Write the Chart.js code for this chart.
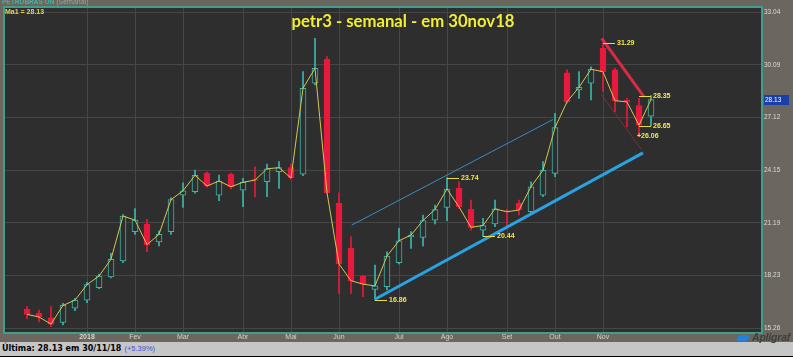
<!DOCTYPE html>
<html><head><meta charset="utf-8">
<script src="https://cdn.jsdelivr.net/npm/chart.js@4.4.0/dist/chart.umd.min.js"></script>
<style>
html,body{margin:0;padding:0;background:#6b675e;width:793px;height:357px;overflow:hidden;position:relative}
#c{position:absolute;left:0;top:0;display:block}
#top{position:absolute;left:2px;top:-2px;height:9px;overflow:hidden;font:bold 6.5px "Liberation Sans",Arial;line-height:8px;color:#39b8a6;white-space:nowrap;z-index:2}
#top span{font-weight:normal;color:#8fa8a2;font-size:7px}
#status{position:absolute;left:0;top:342px;width:793px;height:15px;background:#c6c6c6;border-bottom:1px solid #000;box-sizing:border-box;padding-left:2px;font:bold 8px "DejaVu Sans";line-height:14px;color:#000;white-space:nowrap}
#status span{font:7.5px "Liberation Sans",Arial;color:#3a4fd0;margin-left:3px}
#logo{position:absolute;left:752px;top:332px;z-index:3;font:bold italic 10.5px "Liberation Sans",Arial;line-height:11px;color:#3e3e3e;letter-spacing:-0.2px}
#swoosh{position:absolute;left:737px;top:335px;z-index:3;width:12px;height:6px;background:#2383dc;border-radius:6px 2px 6px 2px}
</style></head>
<body>
<canvas id="c" width="793" height="342"></canvas>
<div id="top">PETROBRAS ON <span>(Semanal)</span></div>
<div id="status">Última: 28.13 em 30/11/18<span>(+5.39%)</span></div>
<div id="swoosh"></div><div id="logo">Apligraf</div>
<script>
// Weekly candles, week 0 = 27 Nov 2017 ... week 52 = 26 Nov 2018
const opens  = [16.35,16.10,15.85,15.60,16.40,16.85,17.55,18.15,19.05,20.70,21.13,20.13,20.70,22.76,22.95,24.00,22.76,23.94,23.04,23.65,23.51,24.07,24.30,23.94,29.05,30.40,22.29,19.76,18.20,17.45,17.60,18.95,20.40,20.38,21.35,22.07,23.14,21.96,20.79,21.13,21.88,22.29,21.82,22.76,23.98,29.64,28.67,29.05,31.02,29.80,28.10,27.80,27.20];
const highs  = [16.50,16.29,16.48,16.67,16.95,17.85,18.32,19.48,21.66,22.00,21.40,20.75,22.60,23.45,24.17,24.05,23.89,24.00,23.70,24.35,24.50,24.64,24.50,29.70,31.58,30.55,22.89,20.42,18.25,18.82,19.57,20.89,20.70,21.64,22.20,23.74,23.50,22.48,21.45,22.48,21.96,22.48,23.51,24.64,27.36,29.80,29.70,29.98,31.29,29.90,28.20,28.20,28.35];
const lows   = [15.82,15.63,15.35,15.45,16.25,16.70,17.49,18.10,18.95,20.55,19.57,19.90,20.55,22.07,22.86,23.20,22.44,23.10,22.10,22.66,22.67,23.14,23.65,23.85,28.95,22.85,17.23,17.23,17.05,16.86,17.42,18.88,19.76,19.89,21.13,21.32,21.99,20.79,20.44,20.98,21.00,21.64,21.69,22.67,23.79,27.92,28.20,28.11,28.58,27.45,26.60,26.06,26.65];
const closes = [16.05,15.90,15.50,16.55,16.85,17.72,18.20,19.15,21.58,21.35,19.97,20.55,22.50,23.00,23.87,23.27,23.55,23.23,23.48,23.60,24.24,24.30,23.72,28.77,29.89,22.90,18.88,17.94,17.75,17.65,19.33,20.19,20.51,21.33,21.95,23.10,22.10,20.94,21.05,21.98,21.82,21.92,23.23,24.15,26.55,28.01,28.82,29.84,29.70,28.07,28.00,26.69,28.13];

const monthIdx    = [5,9,13,18,22,26,31,35,40,44,48];
const monthLabels = ["2018","Fev","Mar","Abr","Mai","Jun","Jul","Ago","Set","Out","Nov"];
const yTickValues = [15.26,18.23,21.19,24.15,27.12,30.09,33.04];
const yTickLabels = ["15.26","18.23","21.19","24.15","27.12","30.09","33.04"];

// trend lines (week index, price)
const supportLine = [{x:29, y:16.90},{x:51.33, y:25.13}];
const channelLine = [{x:27.06, y:21.07},{x:43.83, y:27.01}];
const downLine    = [{x:47.89, y:31.58},{x:51.42, y:28.29}];
const downChannel = [{x:47.89, y:28.39},{x:51.22, y:25.30}];

// price marks
const markIdx    = [29,35,38,48,51,51,51];
const markVal    = [16.86,23.74,20.44,31.29,28.35,26.65,26.06];
const markLen    = [1,1,1,1,1,1,0];
const markPrefix = ["","","","","","","+"];

const titleText = "petr3 - semanal - em 30nov18";

const UP='#3cb6a8', DOWN='#e8193c', PLOT='#2e2e2e';
const isUp = closes.map((c,i)=>c>=opens[i]);
const bodies = closes.map((c,i)=>({x:i, y:[Math.min(c,opens[i]), Math.max(c,opens[i])]}));
const wicks  = closes.map((c,i)=>({x:i, y:[lows[i], highs[i]]}));
const maLine = closes.map((c,i)=>({x:i, y:c}));

const overlay = {
  id:'overlay',
  beforeDraw(chart){
    const {ctx, chartArea:a} = chart;
    ctx.save(); ctx.fillStyle=PLOT; ctx.fillRect(a.left,a.top,a.right-a.left,a.bottom-a.top); ctx.restore();
  },
  afterDatasetsDraw(chart){
    const {ctx, chartArea:a, scales:{x,y}} = chart;
    ctx.save();
    ctx.lineWidth=1; ctx.strokeStyle='#e6dc48'; ctx.fillStyle='#f2e84a';
    ctx.font='bold 7px "Liberation Sans", Arial'; ctx.textBaseline='middle'; ctx.textAlign='left';
    markIdx.forEach((i,k)=>{
      const py = Math.round(y.getPixelForValue(markVal[k]))+0.5;
      const x0 = x.getPixelForValue(i), x1 = x.getPixelForValue(i+markLen[k]);
      if (markLen[k]>0){ ctx.beginPath(); ctx.moveTo(x0,py); ctx.lineTo(x1,py); ctx.stroke(); }
      ctx.fillText(markPrefix[k]+markVal[k].toFixed(2), markLen[k]>0 ? x1+2 : x0-2, py);
    });
    ctx.fillStyle='#e6d84a';
    ctx.fillText('Ma1 = '+closes[closes.length-1].toFixed(2), a.left+1, a.top+5);
    ctx.font='bold 16.7px Lato'; ctx.fillStyle='#f2ee30'; ctx.textAlign='center'; ctx.textBaseline='alphabetic';
    ctx.fillText(titleText, 403, 27);
    ctx.strokeStyle='#3f9e8c'; ctx.lineWidth=2;
    ctx.strokeRect(a.left, a.top, a.right-a.left, a.bottom-a.top);
    const last = closes[closes.length-1];
    const by = Math.round(y.getPixelForValue(last));
    ctx.fillStyle='#1a3fa8'; ctx.fillRect(a.right+2, by-5, 25, 10);
    ctx.fillStyle='#ffffff'; ctx.font='6.5px "Liberation Sans", Arial'; ctx.textAlign='left'; ctx.textBaseline='middle';
    ctx.fillText(last.toFixed(2), a.right+3, by);
    ctx.restore();
  }
};

new Chart(document.getElementById('c'), {
  type:'bar',
  data:{datasets:[
    {type:'line', data:maLine, borderColor:'#d6c650', borderWidth:1, pointRadius:0, tension:0, order:0},
    {type:'line', data:supportLine, borderColor:'#2aa2e2', borderWidth:3, pointRadius:0, order:0},
    {type:'line', data:channelLine, borderColor:'#3b8cc0', borderWidth:1, pointRadius:0, order:0},
    {type:'line', data:downLine, borderColor:'#dc2a44', borderWidth:3, pointRadius:0, order:0},
    {type:'line', data:downChannel, borderColor:'#7e3030', borderWidth:1, pointRadius:0, order:0},
    {type:'bar', data:bodies, grouped:false, barThickness:6, borderWidth:1, borderSkipped:false,
      backgroundColor:isUp.map(u=>u?PLOT:DOWN), borderColor:isUp.map(u=>u?UP:DOWN), order:1},
    {type:'bar', data:wicks, grouped:false, barThickness:1, borderWidth:0,
      backgroundColor:isUp.map(u=>u?UP:DOWN), order:2}
  ]},
  options:{
    responsive:false, animation:false, events:[],
    layout:{padding:{left:4, top:7, right:0, bottom:0}},
    plugins:{legend:{display:false}, tooltip:{enabled:false}, title:{display:false}},
    scales:{
      x:{type:'linear', min:-1.917, max:61.25, offset:false,
        grid:{color:'#464646', lineWidth:1, drawTicks:false, offset:false}, border:{display:false},
        afterBuildTicks:s=>{ s.ticks = monthIdx.map(v=>({value:v})); },
        afterFit:s=>{ s.height = 9; },
        ticks:{padding:1, maxRotation:0, autoSkip:false, color:'#d6d2c6',
          font:c=>({family:'"Liberation Sans", Arial', size:7, weight:(c.index===0?'bold':'normal'), lineHeight:1}),
          callback:(v,i)=>monthLabels[i]}
      },
      y:{type:'linear', position:'right', min:15.0, max:33.34,
        grid:{color:'#464646', lineWidth:1, drawTicks:false}, border:{display:false},
        afterBuildTicks:s=>{ s.ticks = yTickValues.map(v=>({value:v})); },
        afterFit:s=>{ s.width = 31; },
        ticks:{padding:2, color:'#dcdcd4', font:{family:'"Liberation Sans", Arial', size:6.5, lineHeight:1},
          callback:(v,i)=>yTickLabels[i]}
      }
    }
  },
  plugins:[overlay]
});
</script>
</body></html>
